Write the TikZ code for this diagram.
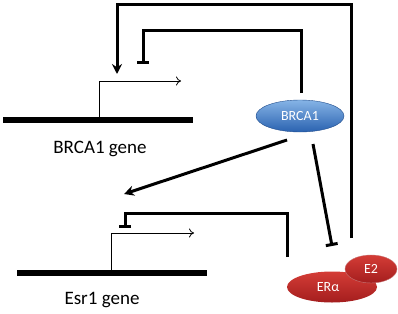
\documentclass[tikz,border=0pt]{standalone}
\usepackage{fontspec}
\setmainfont{Carlito}
\usetikzlibrary{arrows.meta,shapes.geometric}
\definecolor{brtop}{HTML}{86B4E6}
\definecolor{brbot}{HTML}{2A62B0}
\definecolor{ertop}{HTML}{D43C36}
\definecolor{erbot}{HTML}{A41E1E}
\begin{document}
\begin{tikzpicture}[x=1pt,y=-1pt,
  conn/.style={line width=3pt},
  gene/.style={line width=5.5pt},
  prom/.style={line width=0.8pt,-{To[length=5pt,width=9pt]}},
  act/.style={conn,-{Stealth[length=10pt,width=10pt]}},
  inh/.style={conn,-{Bar[width=12pt,line width=3pt]}},
  blob/.style={ellipse,inner sep=0pt,text=white,font=\fontsize{14}{16}\selectfont},
  lbl/.style={font=\fontsize{19}{22}\selectfont}]
\useasboundingbox (0,0) rectangle (398,313);
% genes
\coordinate (g1a) at (3,120); \coordinate (g1b) at (193,120);
\coordinate (g2a) at (17,273); \coordinate (g2b) at (207,273);
\draw[gene] (g1a) -- (g1b);
\draw[gene] (g2a) -- (g2b);
% promoters
\coordinate (p1) at (99,120); \coordinate (p1e) at (181,81);
\coordinate (p2) at (111,273); \coordinate (p2e) at (194,233);
\draw[prom] (p1) |- (p1e);
\draw[prom] (p2) |- (p2e);
% labels
\node[lbl] (l1) at (100,149) {BRCA1 gene};
\node[lbl] (l2) at (102,300) {Esr1 gene};
% proteins
\node[blob,minimum width=88pt,minimum height=32pt,top color=brtop,bottom color=brbot,draw=brbot!80!black,line width=0.4pt] (brca) at (300,116) {BRCA1};
\node[blob,minimum width=90pt,minimum height=31pt,top color=ertop,bottom color=erbot] (er) at (332,287) {\hspace*{-8pt}ERα};
\node[blob,minimum width=52pt,minimum height=28pt,top color=ertop,bottom color=erbot,draw=erbot!60,line width=0.4pt] (e2) at (371,269) {E2};
% connectors
\coordinate (o1) at (351,238); \coordinate (o2) at (117,5); \coordinate (o3) at (117,74);
\draw[act] (o1) -- (351,5) -- (o2) -- (o3);
\coordinate (i1) at (301,93); \coordinate (i2) at (143,31); \coordinate (i3) at (143,64);
\draw[inh] (i1) -- (301,31) -- (i2) -- (i3);
\coordinate (a1) at (287,140); \coordinate (a2) at (124,194);
\draw[act] (a1) -- (a2);
\coordinate (b1) at (313,144); \coordinate (b2) at (332,246);
\draw[inh] (b1) -- (b2);
\coordinate (c1) at (287,257); \coordinate (c2) at (125,213); \coordinate (c3) at (125,228);
\draw[inh] (c1) -- (287,213) -- (c2) -- (c3);
\end{tikzpicture}
\end{document}
